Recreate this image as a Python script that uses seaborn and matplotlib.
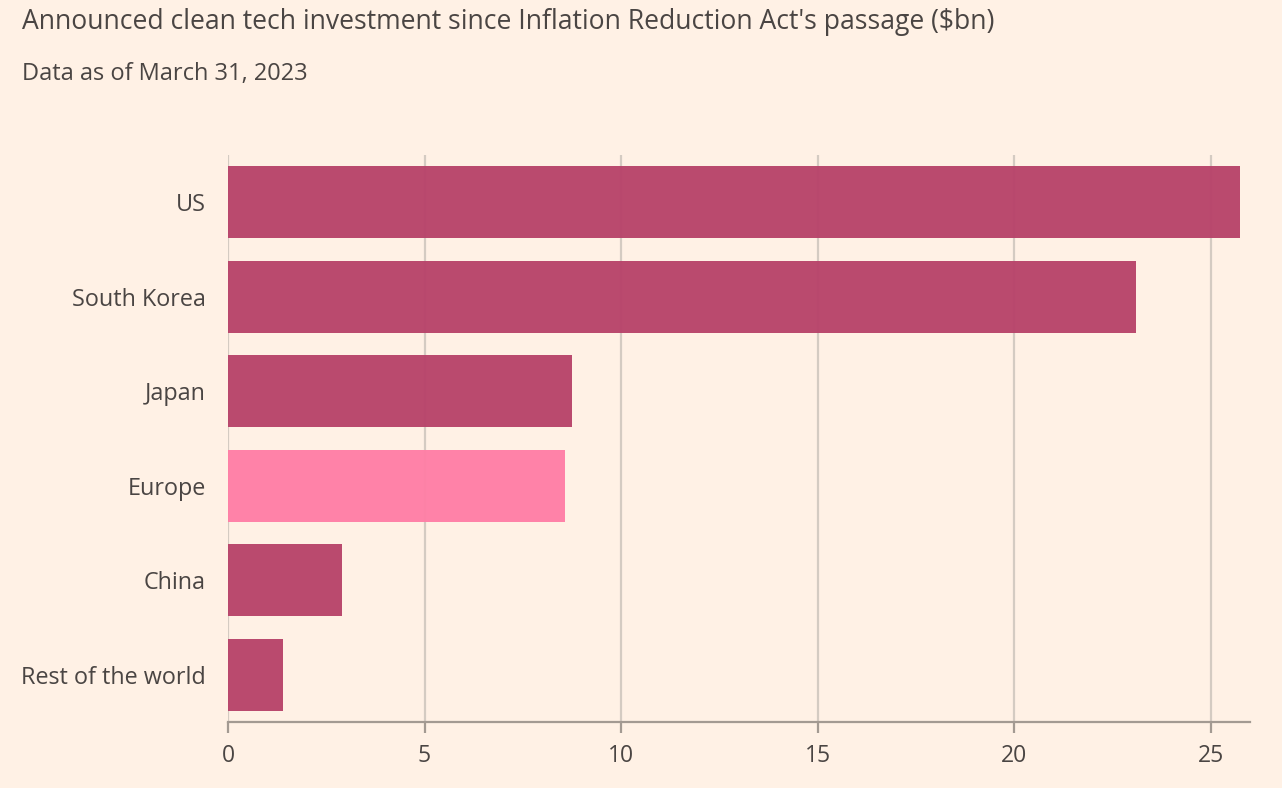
import matplotlib
matplotlib.use("Agg")
import matplotlib.pyplot as plt
import seaborn as sns
import pandas as pd

regions = ["US", "South Korea", "Japan", "Europe", "China", "Rest of the world"]
investment = [25.75, 23.1, 8.75, 8.57, 2.9, 1.4]
highlight = "Europe"

bg = "#FFF1E5"
bar_col = "#B8446A"
hi_col = "#FF7FA6"
grid_col = "#D4CBC2"
text_col = "#4A4543"

sns.set_theme(style="white")
plt.rcParams["font.family"] = ["Open Sans", "DejaVu Sans"]

df = pd.DataFrame({"region": regions, "value": investment})
palette = {r: (hi_col if r == highlight else bar_col) for r in regions}

fig = plt.figure(figsize=(12.82, 7.88), dpi=100, facecolor=bg)
ax = fig.add_axes([228 / 1282, 1 - 722 / 788, (1250 - 228) / 1282, (722 - 155) / 788])
ax.set_facecolor(bg)

sns.barplot(data=df, x="value", y="region", hue="region", palette=palette,
            order=regions, width=0.76, saturation=1, alpha=0.97, dodge=False,
            legend=False, linewidth=0, ax=ax, zorder=3)

ax.set_xlim(0, 26)
ax.set_ylim(5.5, -0.5)
ax.set_xticks([0, 5, 10, 15, 20, 25])
ax.xaxis.grid(True, color=grid_col, linewidth=1.6, zorder=1)
ax.set_axisbelow(True)
ax.set_xlabel("")
ax.set_ylabel("")

for s in ["top", "right", "left"]:
    ax.spines[s].set_visible(False)
ax.spines["bottom"].set_color("#A39A92")
ax.spines["bottom"].set_linewidth(1.6)

ax.tick_params(axis="x", length=8, width=1.6, color="#A39A92", colors=text_col,
               labelsize=16.5, pad=8, bottom=True)
ax.tick_params(axis="y", length=0, colors=text_col, labelsize=16.8, pad=15.8)

fig.text(22 / 1282, 1 - 22 / 788, "Announced clean tech investment since Inflation Reduction Act's passage ($bn)",
         fontsize=19.1, color=text_col, va="center", ha="left")
fig.text(22 / 1282, 1 - 74 / 788, "Data as of March 31, 2023",
         fontsize=17, color=text_col, va="center", ha="left")

fig.savefig("out.png", dpi=100, facecolor=bg)
